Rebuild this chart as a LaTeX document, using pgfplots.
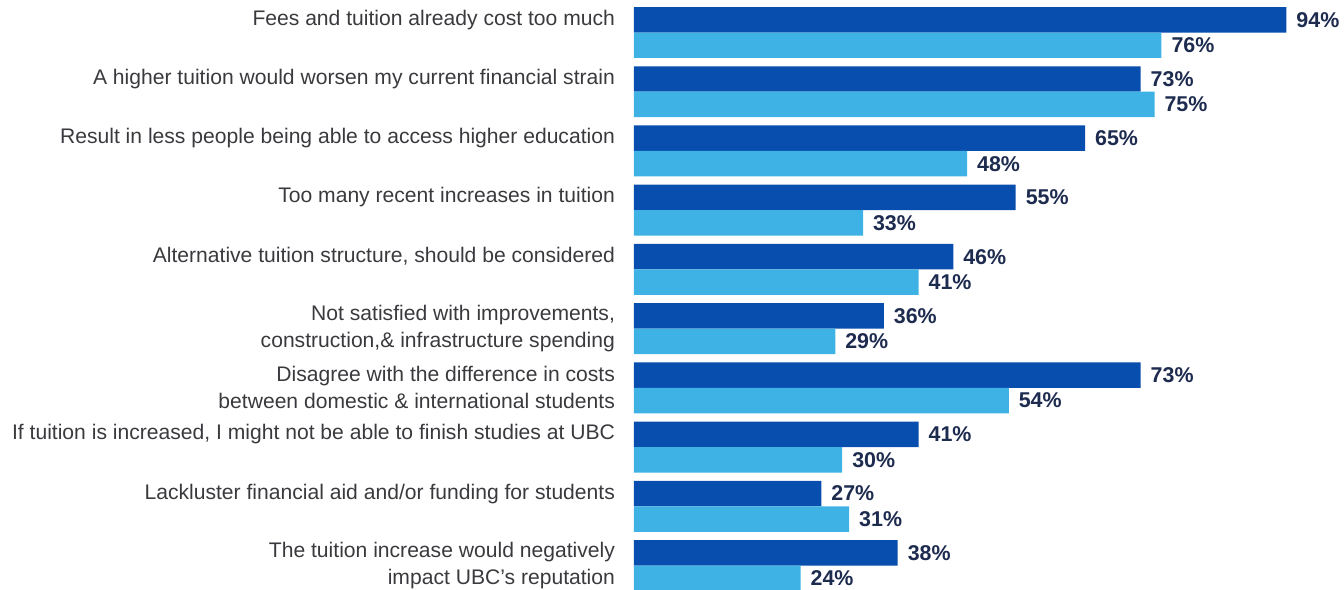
\documentclass[border=0pt]{standalone}
\usepackage{pgfplots}
\pgfplotsset{compat=1.18}
\usepackage{fontspec}
\setmainfont{Liberation Sans}

\definecolor{darkbar}{RGB}{8,78,174}
\definecolor{lightbar}{RGB}{62,178,228}
\definecolor{labeltext}{RGB}{58,58,62}
\definecolor{valtext}{RGB}{29,43,79}

\begin{document}
\begin{tikzpicture}
\begin{axis}[
    name=ax,
    xbar,
    scale only axis,
    width=355pt,
    height=294.6pt,
    xmin=0, xmax=102.3,
    ymin=-0.549, ymax=9.40,
    y dir=reverse,
    bar width=0.43,
    axis line style={draw=none},
    xtick=\empty,
    ytick={-0.215,0.785,1.785,2.785,3.785,5,6,6.785,7.785,9},
    yticklabels={
        {Fees and tuition already cost too much},
        {A higher tuition would worsen my current financial strain},
        {Result in less people being able to access higher education},
        {Too many recent increases in tuition},
        {Alternative tuition structure, should be considered},
        {Not satisfied with improvements,\\construction,\& infrastructure spending},
        {Disagree with the difference in costs\\between domestic \& international students},
        {If tuition is increased, I might not be able to finish studies at UBC},
        {Lackluster financial aid and/or funding for students},
        {The tuition increase would negatively\\impact UBC's reputation}},
    yticklabel style={align=right, text=labeltext,
        font=\fontsize{10.55}{13.5}\selectfont, xshift=-6pt},
    major tick length=0pt,
    /pgf/number format/assume math mode=true,
    nodes near coords={\pgfmathprintnumber{\pgfplotspointmeta}\%},
    every node near coord/.append style={font=\fontsize{10.7}{12}\selectfont\bfseries,
        text=valtext, xshift=1.5pt},
]
\addplot[fill=darkbar, draw=none, bar shift=-0.215] coordinates {
(94,0) (73,1) (65,2) (55,3) (46,4) (36,5) (73,6) (41,7) (27,8) (38,9)};
\addplot[fill=lightbar, draw=none, bar shift=0.215] coordinates {
(76,0) (75,1) (48,2) (33,3) (41,4) (29,5) (54,6) (30,7) (31,8) (24,9)};
\end{axis}
\pgfresetboundingbox
\path[use as bounding box] ([xshift=-317pt]ax.south west) rectangle (ax.north east);
\end{tikzpicture}
\end{document}
